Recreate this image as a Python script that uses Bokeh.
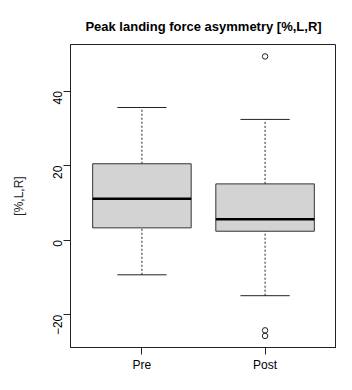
import math
from bokeh.plotting import figure
from bokeh.models import Range1d, FixedTicker, ColumnDataSource
from bokeh.embed import file_html
from bokeh.resources import INLINE

# ---- data (box statistics) ----
categories = ["Pre", "Post"]
positions = [1, 2]
whisker_low = [-9.3, -14.9]
q1 = [3.3, 2.4]
median = [11.1, 5.6]
q3 = [20.5, 15.1]
whisker_high = [35.6, 32.4]
outlier_x = [2, 2, 2]
outlier_y = [49.3, -24.2, -25.7]
y_ticks = [-20, 0, 20, 40]

FONT = "Liberation Sans"
box_w = 0.8
cap_w = 0.4

p = figure(width=336, height=374, output_backend="svg", toolbar_location=None,
           x_range=Range1d(0.42, 2.58), y_range=Range1d(-28.8, 52.5),
           min_border_left=70, min_border_right=0, min_border_top=44,
           min_border_bottom=22, title="Peak landing force asymmetry [%,L,R]")

p.title.text_font = FONT
p.title.text_font_size = "13px"
p.title.text_font_style = "bold"
p.title.align = "center"
p.title.text_color = "black"
p.title.standoff = 22

p.xgrid.visible = False
p.ygrid.visible = False
p.outline_line_color = "#222222"
p.outline_line_width = 1
p.background_fill_color = "white"

src = ColumnDataSource(dict(x=positions, lo=whisker_low, q1=q1, med=median, q3=q3, hi=whisker_high,
                            cl=[x - cap_w / 2 for x in positions], cr=[x + cap_w / 2 for x in positions],
                            bl=[x - box_w / 2 for x in positions], br=[x + box_w / 2 for x in positions]))

# whiskers (dashed)
p.segment(x0="x", y0="q3", x1="x", y1="hi", source=src, line_color="#222222", line_width=1, line_dash="2 2")
p.segment(x0="x", y0="lo", x1="x", y1="q1", source=src, line_color="#222222", line_width=1, line_dash="2 2")
# caps
p.segment(x0="cl", y0="hi", x1="cr", y1="hi", source=src, line_color="#222222", line_width=1)
p.segment(x0="cl", y0="lo", x1="cr", y1="lo", source=src, line_color="#222222", line_width=1)
# boxes
p.vbar(x="x", width=box_w, bottom="q1", top="q3", source=src, fill_color="#D3D3D3",
       line_color="#333333", line_width=1)
# medians
p.segment(x0="bl", y0="med", x1="br", y1="med", source=src, line_color="black", line_width=2.5)
# outliers
p.scatter(outlier_x, outlier_y, marker="circle", size=5.5, fill_color=None, line_color="#222222", line_width=1)

# axes
p.xaxis.ticker = FixedTicker(ticks=positions)
p.xaxis.major_label_overrides = {pos: lab for pos, lab in zip(positions, categories)}
p.yaxis.ticker = FixedTicker(ticks=y_ticks)
p.yaxis.axis_label = "[%,L,R]"
p.yaxis.major_label_orientation = math.pi / 2
for ax in (p.xaxis[0], p.yaxis[0]):
    ax.axis_line_color = "#222222"
    ax.major_tick_line_color = "#222222"
    ax.major_tick_in = 0
    ax.major_tick_out = 7
    ax.minor_tick_line_color = None
    ax.major_label_text_font = FONT
    ax.major_label_text_font_size = "12px"
    ax.major_label_text_color = "black"
    ax.major_label_standoff = 6
p.yaxis.axis_label_text_font = FONT
p.yaxis.axis_label_text_font_size = "12px"
p.yaxis.axis_label_text_font_style = "normal"
p.yaxis.axis_label_text_color = "#222222"
p.yaxis.axis_label_standoff = 20
p.xaxis.major_label_standoff = 3

open("out.html", "w").write(file_html(p, INLINE))
